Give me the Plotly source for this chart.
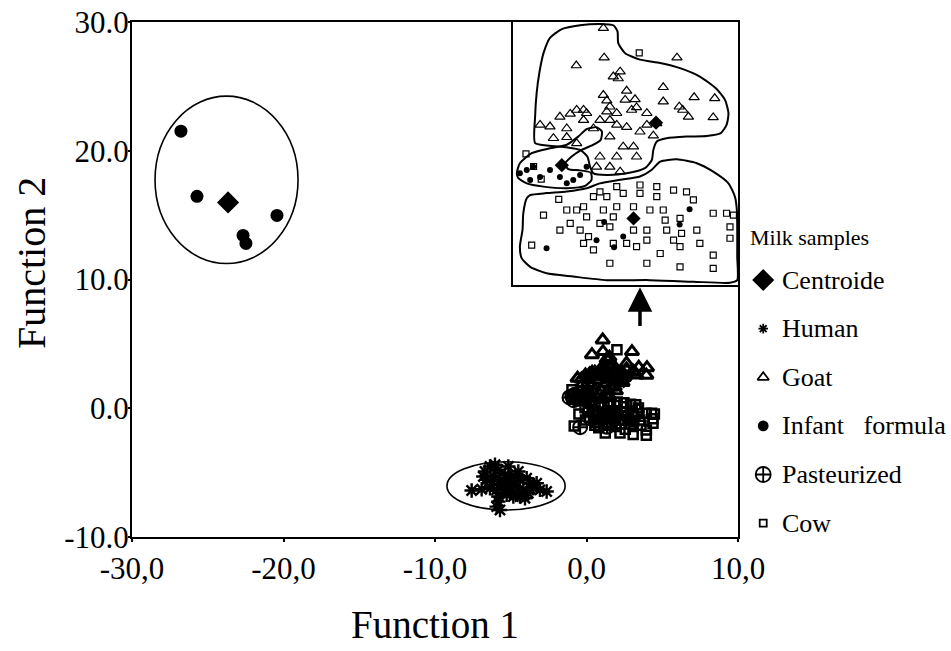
import plotly.graph_objects as go

# ------------------------------------------------------------------ data
x_tick_vals = [-30, -20, -10, 0, 10]
x_tick_text = ["-30,0", "-20,0", "-10,0", "0,0", "10,0"]
y_tick_vals = [-10, 0, 10, 20, 30]
y_tick_text = ["-10.0", "0.0", "10.0", "20.0", "30.0"]

infant_x = [-26.77, -25.71, -20.43, -22.67, -22.48]
infant_y = [21.52, 16.46, 14.98, 13.42, 12.80]

human_x = [-7.58, -6.92, -6.70, -6.37, -6.04, -5.82, -6.59, -6.15, -5.71, -6.26,
           -5.93, -5.60, -5.38, -5.05, -4.72, -4.39, -3.95, -3.73, -3.51, -3.84,
           -4.17, -4.61, -4.94, -5.27, -4.83, -4.39, -4.06, -5.05, -5.49, -5.82,
           -5.82, -5.93, -5.71, -3.07, -2.63, -3.29, -6.37, -6.81, -4.50, -5.16]
human_y = [-6.39, -6.29, -4.91, -4.52, -4.39, -4.78, -5.56, -5.30, -5.56, -5.95,
           -6.34, -5.95, -5.17, -5.43, -5.30, -5.56, -5.43, -5.82, -6.21, -6.60,
           -6.34, -6.08, -6.47, -6.73, -6.86, -6.86, -6.99, -6.08, -6.34, -6.86,
           -7.25, -7.64, -7.90, -6.34, -6.47, -5.82, -6.21, -5.30, -4.91, -4.52]

goat_x = [1.33, 1.51, 1.46, 2.64, 3.45, 2.64, 3.06, 3.15, 3.30, 3.95,
          1.64, 1.90, 1.16, 1.94, 1.24, 0.37, 0.20, 0.55, -0.59, -0.33,
          -0.24, 0.11, 1.42, 1.68, 2.03, 2.38, 2.21, 2.47, 1.24, 0.98,
          1.07, -0.07, 0.63, 1.16, 1.42, 0.55, 0.98, 1.24, 1.59, 1.86,
          1.42, 1.94, 1.24, 1.51, 0.89, 0.37, 0.11, 0.81, 1.81, 2.21,
          1.07, 0.36, 1.09, 3.00, 1.68, 3.99]
goat_y = [3.82, 3.97, 3.76, 3.49, 3.18, 3.05, 2.89, 2.79, 2.58, 2.56,
          3.10, 3.12, 3.08, 2.87, 2.89, 2.79, 2.67, 2.79, 2.33, 2.28,
          1.92, 1.95, 2.33, 2.26, 2.12, 2.00, 2.33, 2.38, 2.48, 2.48,
          3.25, 2.58, 2.69, 2.74, 2.69, 2.48, 1.35, 1.97, 1.66, 1.66,
          1.35, 1.35, 1.04, 0.89, 1.04, 1.76, 2.22, 2.22, 2.79, 2.69,
          5.31, 4.16, 4.40, 4.40, 3.38, 3.15]

cow_x = [-0.50, -0.81, 0.46, 0.68, 2.64, 2.69, 3.08, 3.43, 3.12, 3.95,
         4.30, 4.48, 4.39, 4.39, 3.08, 3.95, 3.08, 3.95, 1.94, 2.56,
         2.21, 1.86, 1.24, 1.33, 0.98, 0.63, 0.37, 0.81, 1.16, 1.59,
         2.03, 2.47, 2.91, 3.25, 1.86, 2.29, 1.42, 1.07, 0.55, 0.11,
         0.20, -0.07, 0.55, 0.81, 1.33, 1.68, 2.21, 2.73, 2.91, 3.52,
         3.60, 2.21, 1.24, 2.47, 2.03, 1.42, 0.98, -0.96, -0.76, -0.56,
         -0.10, 2.01]
cow_y = [-0.45, -1.37, -0.91, -1.11, -0.29, -0.60, -0.55, 0.02, -1.01, -0.39,
         -0.39, -0.45, -0.81, -1.16, -1.42, -1.68, -2.04, -2.09, -1.42, -1.63,
         -1.22, -0.91, -0.81, -0.50, -0.70, -0.50, -0.29, 0.12, 0.12, 0.22,
         0.22, 0.12, 0.32, 0.27, -0.19, -0.29, -0.19, -0.29, -0.19, -0.29,
         -0.70, -0.91, -1.32, -1.52, -1.32, -1.32, -0.91, -0.91, -1.22, -0.91,
         -1.32, -1.93, -1.93, 0.43, 0.48, 0.43, 0.27, 1.44, 1.05, 0.66,
         0.04, 4.55]

past_x = [-0.94, -0.85, -0.59, -0.07, 0.28, 0.11, 0.63, -0.33, 0.46, -1.12,
          -0.77, 1.35, 3.33, 3.07, 1.09, -0.42, 0.89, 1.59]
past_y = [0.94, 0.63, 0.73, 0.73, 0.63, 0.53, 1.04, 0.94, 0.79, 0.84,
          1.04, -1.44, -0.27, -0.74, -0.66, -1.47, -1.22, -1.11]

centroid_x = [-23.66, -5.30, 2.45, -0.02, 1.86]
centroid_y = [15.99, -6.00, 2.40, 1.09, -0.55]

# group ellipses in the main plot (centre and half-axes, function units)
ellipse_cx = [-23.76, -5.31]
ellipse_cy = [17.74, -6.03]
ellipse_rx = [4.72, 3.90]
ellipse_ry = [6.50, 1.87]

# region outlines drawn in the magnified inset (function units)
goat_region_x = [-0.72, -0.72, -0.68, -0.61, -0.50, -0.33, -0.02, 0.46, 0.98, 1.33,
                 1.44, 1.46, 1.64, 2.03, 2.56, 3.08, 3.60, 4.02, 4.26, 4.35,
                 4.30, 4.15, 3.78, 3.25, 2.73, 2.47, 2.38, 2.34, 2.16, 1.68,
                 1.16, 0.81, 0.72, 0.65, 0.46, 0.11, -0.33, -0.72]
goat_region_y = [1.77, 2.59, 3.31, 3.93, 4.54, 5.01, 5.28, 5.40, 5.44, 5.40,
                 5.21, 4.85, 4.54, 4.34, 4.24, 4.08, 3.82, 3.46, 3.10, 2.69,
                 2.33, 2.08, 1.99, 1.97, 1.92, 1.82, 1.56, 1.25, 1.00, 0.84,
                 0.79, 0.84, 1.05, 1.36, 1.56, 1.64, 1.69, 1.77]
past_region_x = [-1.20, -1.12, -0.81, -0.33, 0.11, 0.41, 0.63, 0.89, 1.03, 1.00,
                 0.81, 0.50, 0.24, 0.06, 0.15, 0.46, 0.74, 0.76, 0.59, 0.11,
                 -0.50, -0.94, -1.16, -1.20]
past_region_y = [0.84, 1.15, 1.46, 1.61, 1.72, 1.97, 2.20, 2.26, 2.13, 1.87,
                 1.72, 1.56, 1.36, 1.13, 0.97, 0.93, 0.86, 0.64, 0.45, 0.38,
                 0.43, 0.53, 0.69, 0.84]
cow_region_x = [-0.94, -1.03, -1.05, -1.12, -1.07, -0.85, -0.42, 0.28, 1.16, 2.29,
                3.43, 4.39, 4.58, 4.58, 4.58, 4.57, 4.52, 4.35, 3.95, 3.52,
                2.99, 2.56, 2.34, 2.03, 1.51, 0.98, 0.63, 0.11, -0.42, -0.85,
                -0.94]
cow_region_y = [0.07, -0.39, -0.90, -1.42, -1.78, -2.04, -2.24, -2.34, -2.45, -2.45,
                -2.50, -2.53, -2.45, -1.73, -0.90, -0.29, 0.12, 0.53, 0.89, 1.15,
                1.27, 1.20, 0.95, 0.74, 0.64, 0.53, 0.38, 0.28, 0.23, 0.17,
                0.07]

legend_title = "Milk samples"
legend_labels = ["Centroide", "Human", "Goat",
                 "Infant\u00a0\u00a0 formula", "Pasteurized", "Cow"]
legend_symbols = ["diamond", "asterisk-open", "triangle-up-open", "circle",
                  "circle-cross-open", "square-open"]
legend_sizes = [15, 8, 10, 9, 15, 7]

# ------------------------------------------------------------------ layout helpers
W, H = 951, 651
FONT = "Liberation Serif, Times New Roman, serif"
MAIN_X = [132 / W, 738 / W]
MAIN_Y = [1 - 537 / H, 1 - 22 / H]
INSET_X = [513 / W, 738 / W]
INSET_Y = [1 - 285 / H, 1 - 22 / H]
LEG_X = [740 / W, 1.0]
ARROW = dict(x=3.53, tip=9.4, tail=6.27)

fig = go.Figure()

blk = "black"
# ---- main plot
fig.add_trace(go.Scatter(x=cow_x, y=cow_y, mode="markers", name="Cow",
                         marker=dict(symbol="square-open", size=9, color=blk, opacity=1,
                                     line=dict(width=2.5, color=blk))))
fig.add_trace(go.Scatter(x=goat_x, y=goat_y, mode="markers", name="Goat",
                         marker=dict(symbol="triangle-up-open", size=12, color=blk, opacity=1,
                                     line=dict(width=3, color=blk))))
fig.add_trace(go.Scatter(x=past_x, y=past_y, mode="markers", name="Pasteurized",
                         marker=dict(symbol="circle-cross-open", size=14, color=blk, opacity=1,
                                     line=dict(width=2, color=blk))))
fig.add_trace(go.Scatter(x=human_x, y=human_y, mode="markers", name="Human",
                         marker=dict(symbol="asterisk-open", size=12, color=blk, opacity=1,
                                     line=dict(width=2.4, color=blk))))
fig.add_trace(go.Scatter(x=infant_x, y=infant_y, mode="markers", name="Infant formula",
                         marker=dict(symbol="circle", size=13, color=blk, opacity=1)))
fig.add_trace(go.Scatter(x=centroid_x, y=centroid_y, mode="markers", name="Centroide",
                         marker=dict(symbol="diamond", size=17, color=blk, opacity=1)))

# ---- inset (magnified view of the central cluster)
for rx, ry in [(goat_region_x, goat_region_y), (past_region_x, past_region_y),
               (cow_region_x, cow_region_y)]:
    fig.add_trace(go.Scatter(x=rx, y=ry, mode="lines", xaxis="x4", yaxis="y4",
                             line=dict(color=blk, width=2, shape="spline", smoothing=0.6),
                             hoverinfo="skip"))
fig.add_trace(go.Scatter(x=goat_x, y=goat_y, mode="markers", xaxis="x4", yaxis="y4",
                         marker=dict(symbol="triangle-up-open", size=9, color=blk, opacity=1,
                                     line=dict(width=1.2, color=blk))))
fig.add_trace(go.Scatter(x=cow_x, y=cow_y, mode="markers", xaxis="x4", yaxis="y4",
                         marker=dict(symbol="square-open", size=6, color=blk, opacity=1,
                                     line=dict(width=1.2, color=blk))))
fig.add_trace(go.Scatter(x=past_x, y=past_y, mode="markers", xaxis="x4", yaxis="y4",
                         marker=dict(symbol="circle", size=6, color=blk, opacity=1)))
fig.add_trace(go.Scatter(x=centroid_x, y=centroid_y, mode="markers", xaxis="x4", yaxis="y4",
                         marker=dict(symbol="diamond", size=11, color=blk, opacity=1)))

# ---- hand-drawn legend on its own axis
leg_idx = list(range(len(legend_labels)))
for i, sym, sz in zip(leg_idx, legend_symbols, legend_sizes):
    fig.add_trace(go.Scatter(x=[0.11], y=[i], mode="markers",
                             xaxis="x3", yaxis="y3", hoverinfo="skip",
                             marker=dict(symbol=sym, size=sz, color=blk, opacity=1,
                                         line=dict(width=1.8, color=blk))))

annotations = []
for i, lab in zip(leg_idx, legend_labels):
    annotations.append(dict(x=0.19, y=i, xref="x3", yref="y3", text=lab, showarrow=False,
                            xanchor="left", yanchor="middle",
                            font=dict(family=FONT, size=26, color=blk)))
annotations.append(dict(x=0.04, y=-0.885, xref="x3", yref="y3", text=legend_title,
                        showarrow=False, xanchor="left", yanchor="middle",
                        font=dict(family=FONT, size=22, color=blk)))
annotations.append(dict(x=ARROW["x"], y=ARROW["tip"], ax=ARROW["x"], ay=ARROW["tail"],
                        xref="x", yref="y", axref="x", ayref="y", text="",
                        showarrow=True, arrowhead=2, arrowsize=1.4, arrowwidth=3.5,
                        arrowcolor=blk))
annotations.append(dict(x=(MAIN_X[0] + MAIN_X[1]) / 2, y=1 - 624 / H, xref="paper",
                        yref="paper", text="Function 1", showarrow=False,
                        xanchor="center", yanchor="middle",
                        font=dict(family=FONT, size=39, color=blk)))
annotations.append(dict(x=31 / W, y=1 - 263 / H, xref="paper", yref="paper",
                        text="Function 2", showarrow=False, textangle=-90,
                        xanchor="center", yanchor="middle",
                        font=dict(family=FONT, size=40, color=blk)))

shapes = []
for cx, cy, rx, ry in zip(ellipse_cx, ellipse_cy, ellipse_rx, ellipse_ry):
    shapes.append(dict(type="circle", xref="x", yref="y", x0=cx - rx, x1=cx + rx,
                       y0=cy - ry, y1=cy + ry, line=dict(color=blk, width=1.6)))

axis_common = dict(showgrid=False, zeroline=False, showline=True, linecolor=blk,
                   linewidth=2, mirror=True)

fig.update_layout(
    width=W, height=H, autosize=False,
    margin=dict(l=0, r=0, t=0, b=0, autoexpand=False),
    paper_bgcolor="white", plot_bgcolor="white",
    showlegend=False,
    font=dict(family=FONT, color=blk),
    xaxis=dict(domain=MAIN_X, range=[-30, 10], tickvals=x_tick_vals,
               ticktext=x_tick_text, ticks="outside", ticklen=3, tickwidth=2,
               tickcolor=blk, tickfont=dict(family=FONT, size=31, color=blk),
               anchor="y", automargin=False, **axis_common),
    yaxis=dict(domain=MAIN_Y, range=[-10, 30], tickvals=y_tick_vals,
               ticktext=y_tick_text, ticks="outside", ticklen=2, tickwidth=2,
               tickcolor=blk, tickfont=dict(family=FONT, size=31, color=blk),
               ticklabelstandoff=-7,
               anchor="x", automargin=False, **axis_common),
    xaxis3=dict(domain=LEG_X, range=[0, 1], visible=False, anchor="y3"),
    yaxis3=dict(domain=[0, 1], range=[7.63, -5.76], visible=False, anchor="x3"),
    xaxis4=dict(domain=INSET_X, range=[-1.3, 4.6], showticklabels=False, ticks="",
                anchor="y4", **{**axis_common, "linewidth": 1.8}),
    yaxis4=dict(domain=INSET_Y, range=[-2.6, 5.5], showticklabels=False, ticks="",
                anchor="x4", **{**axis_common, "linewidth": 1.8}),
    annotations=annotations,
    shapes=shapes,
)

fig.write_html("out.html")
